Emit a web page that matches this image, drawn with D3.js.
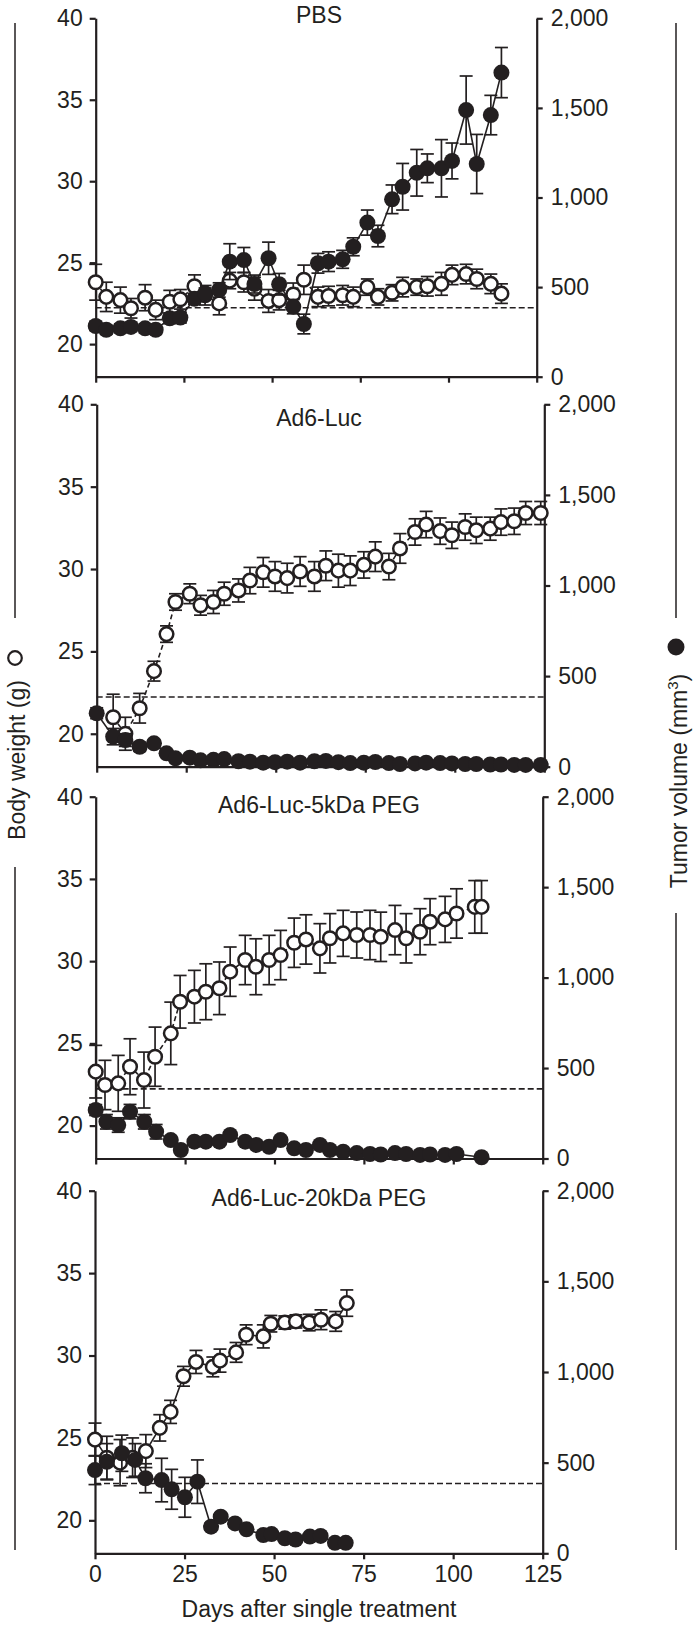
<!DOCTYPE html>
<html>
<head>
<meta charset="utf-8">
<script src="https://cdn.jsdelivr.net/npm/d3@7"></script>
<style>
  html, body { margin: 0; padding: 0; background: #fff; }
  svg { display: block; }
</style>
</head>
<body>
<script>
// ---------------- DATA ----------------
const panelTitles = ["PBS", "Ad6-Luc", "Ad6-Luc-5kDa PEG", "Ad6-Luc-20kDa PEG"];
const weightTicks = [20, 25, 30, 35, 40];
const tumorTicks = [0, 500, 1000, 1500, 2000];
const dayTicks = [0, 25, 50, 75, 100, 125];
const baselineTumor = 385;

// PBS
const days1 = [0,3,7,10,14,17,21,24,28,31,35,38,42,45,49,52,56,59,63,66,70,73,77,80,84,87,91,94,98,101,105,108,112,115];
const weight1 = [23.8,22.9,22.7,22.2,22.85,22.1,22.6,22.75,23.55,23.0,22.5,23.9,23.8,23.4,22.65,22.7,23.05,23.95,22.9,22.95,23.0,22.9,23.5,22.9,23.15,23.5,23.5,23.55,23.7,24.25,24.3,24.0,23.7,23.1];
const weightErr1 = [1.1,0.9,0.8,0.6,0.8,0.6,0.7,0.6,0.7,0.6,0.7,0.5,0.6,0.7,0.7,0.6,0.7,0.9,0.6,0.6,0.6,0.6,0.5,0.5,0.5,0.6,0.5,0.6,0.7,0.6,0.6,0.6,0.6,0.6];
const tumor1 = [283,262,270,278,270,262,326,330,435,465,484,642,651,517,661,516,391,294,633,642,655,725,860,785,990,1060,1138,1163,1163,1204,1488,1187,1460,1697];
const tumorErr1 = [25,25,25,25,25,25,30,30,30,30,40,100,70,50,90,60,40,55,55,55,50,50,70,60,80,130,130,80,160,100,190,165,110,140];

// Ad6-Luc
const days2w = [4.6,8,12,16,19.5,22,26,29,32.6,35.6,39.6,42.8,46.5,49.8,53.2,56.8,60.8,64,67.5,70.8,74.6,77.8,81.6,84.7,88.9,92,95.9,99.2,102.9,106,109.9,112.9,116.6,119.8,124];
const weight2 = [21.0,20.0,21.55,23.8,26.05,28.0,28.5,27.8,28.0,28.5,28.7,29.3,29.8,29.55,29.45,29.85,29.55,30.2,29.9,29.9,30.25,30.75,30.15,31.25,32.25,32.7,32.3,32.05,32.55,32.35,32.45,32.85,32.9,33.4,33.4];
const weightErr2 = [1.4,1.0,0.9,0.6,0.5,0.5,0.6,0.6,0.7,0.7,0.7,0.8,0.9,0.9,0.9,0.9,0.9,0.9,1.0,0.9,0.8,0.9,0.8,0.9,0.8,0.8,0.8,0.8,0.8,0.8,0.7,0.8,0.8,0.7,0.7];
const days2t = [0,4.6,8,12,16,19.5,22,26,29,32.6,35.6,39.6,42.8,46.5,49.8,53.2,56.8,60.8,64,67.5,70.8,74.6,77.8,81.6,84.7,88.9,92,95.9,99.2,102.9,106,109.9,112.9,116.6,119.8,124];
const tumor2 = [295,166,147,110,129,74,46,50,35,38,42,30,28,22,25,28,22,30,32,25,20,22,26,20,15,18,22,20,18,15,15,12,12,10,10,10];
const tumorErr2 = [30,45,35,25,20,15,10,10,10,10,10,10,10,10,10,10,10,10,10,10,10,10,10,10,10,10,10,10,10,10,10,10,10,10,10,10];

// Ad6-Luc-5kDa PEG
const days3w = [0,2.6,6.3,9.6,13.5,16.6,21,23.6,27.6,30.8,34.6,37.6,41.8,44.8,48.5,51.7,55.5,58.8,62.7,65.5,69.2,73,76.7,79.7,83.7,86.8,90.7,93.5,97.7,100.9,106,107.9];
const weight3 = [23.28,22.47,22.57,23.58,22.77,24.19,25.61,27.53,27.84,28.14,28.35,29.36,30.07,29.66,30.07,30.37,31.12,31.32,30.78,31.39,31.69,31.59,31.59,31.48,31.89,31.39,31.79,32.4,32.54,32.9,33.3,33.3];
const weightErr3 = [1.6,1.5,1.7,1.7,1.7,1.8,1.9,1.6,1.6,1.7,1.6,1.5,1.5,1.7,1.5,1.5,1.5,1.5,1.5,1.5,1.4,1.4,1.5,1.5,1.5,1.5,1.4,1.4,1.4,1.5,1.6,1.6];
const days3t = [0,3,6.3,9.6,13.6,16.9,21,23.8,27.6,30.8,34.6,37.6,41.8,44.9,48.5,51.7,55.5,58.8,62.7,65.5,69.2,73,76.7,79.7,83.7,86.8,90.7,93.5,97.7,100.9,107.9];
const tumor3 = [268,203,185,259,203,148,102,47,93,93,93,130,93,75,65,102,56,47,75,47,38,30,25,22,30,25,20,22,20,25,7];
const tumorErr3 = [30,40,40,40,40,40,20,15,15,15,15,15,15,15,10,10,10,10,10,10,10,10,10,10,10,10,10,10,10,10,10];

// Ad6-Luc-20kDa PEG
const days4w = [0,3.3,7,10.5,14.2,18.1,21.1,24.7,28.2,32.9,34.9,39.4,42.2,47,49.1,53,56.1,59.8,63.1,67.2,70.3];
const weight4 = [24.9,23.8,23.5,23.8,24.2,25.61,26.58,28.74,29.61,29.31,29.69,30.19,31.26,31.16,31.93,32.0,32.07,32.0,32.17,32.07,33.18];
const weightErr4 = [1.0,1.3,1.4,1.2,1.0,0.8,0.7,0.6,0.7,0.6,0.7,0.6,0.6,0.7,0.5,0.4,0.4,0.5,0.6,0.6,0.8];
const days4t = [0,3.3,7.5,11.2,14.1,18.6,21.4,25.1,28.6,32.4,35.1,39.1,42.3,47,49.3,53,56,60,63,67,70];
const tumor4 = [459,505,552,515,414,404,353,309,395,147,202,165,132,101,106,83,76,92,96,58,58];
const tumorErr4 = [80,100,100,90,80,120,110,110,120,20,20,20,15,10,10,10,10,10,10,10,10];

// ---------------- LAYOUT ----------------
const W = 700, H = 1629;
const ink = "#231f20";
const font = "'Liberation Sans', Arial, Helvetica, sans-serif";
const fs = 23;

const layout = [
  {left: 95.7, right: 536.7, top: 18.3,   bottom: 376.7,  titleY: 23.3,   openDash: "5,3", xLabels: false},
  {left: 96.7, right: 544.3, top: 404.3,  bottom: 766.7,  titleY: 425.7,  openDash: "5,3", xLabels: false},
  {left: 95.7, right: 542.7, top: 796.7,  bottom: 1158.5, titleY: 812.7,  openDash: "5,3", xLabels: false},
  {left: 95.0, right: 542.7, top: 1190.7, bottom: 1553.3, titleY: 1205.7, openDash: null,  xLabels: true}
];
const series = [
  {dw: days1, w: weight1, we: weightErr1, dt: days1, t: tumor1, te: tumorErr1},
  {dw: days2w, w: weight2, we: weightErr2, dt: days2t, t: tumor2, te: tumorErr2},
  {dw: days3w, w: weight3, we: weightErr3, dt: days3t, t: tumor3, te: tumorErr3},
  {dw: days4w, w: weight4, we: weightErr4, dt: days4t, t: tumor4, te: tumorErr4}
];

const svg = d3.select("body").append("svg")
  .attr("width", W).attr("height", H)
  .style("font-family", font);

function styleAxis(g) {
  g.select(".domain").attr("stroke", ink).attr("stroke-width", 2.2);
  g.selectAll(".tick line").attr("stroke", ink).attr("stroke-width", 2.2);
  g.selectAll(".tick text").attr("fill", ink).style("font-size", fs + "px").style("font-family", font);
}

layout.forEach((p, i) => {
  const s = series[i];
  const x = d3.scaleLinear().domain([0, 125]).range([p.left, p.right]);
  const yL = d3.scaleLinear().domain([18, 40]).range([p.bottom, p.top]);
  const yR = d3.scaleLinear().domain([0, 2000]).range([p.bottom, p.top]);
  const g = svg.append("g");

  // axes
  g.append("g").attr("transform", `translate(${p.left},0)`)
    .call(d3.axisLeft(yL).tickValues(weightTicks).tickSize(6).tickPadding(7).tickSizeOuter(0))
    .call(styleAxis);
  g.append("g").attr("transform", `translate(${p.right},0)`)
    .call(d3.axisRight(yR).tickValues(tumorTicks).tickFormat(d3.format(",")).tickSize(6).tickPadding(8).tickSizeOuter(0))
    .call(styleAxis);
  g.append("g").attr("transform", `translate(0,${p.bottom})`)
    .call(d3.axisBottom(x).tickValues(dayTicks).tickSize(6).tickPadding(6).tickSizeOuter(0)
      .tickFormat(p.xLabels ? d3.format("d") : () => ""))
    .call(styleAxis);

  // title
  g.append("text").attr("x", 319).attr("y", p.titleY)
    .attr("text-anchor", "middle").attr("fill", ink)
    .style("font-size", fs + "px").text(panelTitles[i]);

  // dashed baseline
  g.append("line")
    .attr("x1", p.left).attr("x2", p.right)
    .attr("y1", yR(baselineTumor)).attr("y2", yR(baselineTumor))
    .attr("stroke", ink).attr("stroke-width", 1.6).attr("stroke-dasharray", "6,3");

  const cap = 6.5;
  function errBars(days, vals, errs, y) {
    const eg = g.append("g").attr("stroke", ink).attr("stroke-width", 1.7).attr("fill", "none");
    days.forEach((d, k) => {
      const cx = x(d), y1 = y(vals[k] + errs[k]), y2 = y(vals[k] - errs[k]);
      eg.append("line").attr("x1", cx).attr("x2", cx).attr("y1", y1).attr("y2", y2);
      eg.append("line").attr("x1", cx - cap).attr("x2", cx + cap).attr("y1", y1).attr("y2", y1);
      eg.append("line").attr("x1", cx - cap).attr("x2", cx + cap).attr("y1", y2).attr("y2", y2);
    });
  }

  // body weight (open)
  errBars(s.dw, s.w, s.we, yL);
  const lineW = d3.line().x((d, k) => x(s.dw[k])).y(d => yL(d));
  g.append("path").attr("d", lineW(s.w)).attr("fill", "none")
    .attr("stroke", ink).attr("stroke-width", 1.6)
    .attr("stroke-dasharray", p.openDash);
  g.append("g").selectAll("circle").data(s.w).join("circle")
    .attr("cx", (d, k) => x(s.dw[k])).attr("cy", d => yL(d)).attr("r", 6.8)
    .attr("fill", "#fff").attr("stroke", ink).attr("stroke-width", 2.5);

  // tumor volume (filled)
  errBars(s.dt, s.t, s.te, yR);
  const lineT = d3.line().x((d, k) => x(s.dt[k])).y(d => yR(d));
  g.append("path").attr("d", lineT(s.t)).attr("fill", "none")
    .attr("stroke", ink).attr("stroke-width", 1.6);
  g.append("g").selectAll("circle").data(s.t).join("circle")
    .attr("cx", (d, k) => x(s.dt[k])).attr("cy", d => yR(d)).attr("r", 8)
    .attr("fill", ink);
});

// x-axis title
svg.append("text").attr("x", 319).attr("y", 1617)
  .attr("text-anchor", "middle").attr("fill", ink)
  .style("font-size", fs + "px").text("Days after single treatment");

// outer vertical guide lines
const frame = svg.append("g").attr("stroke", ink).attr("stroke-width", 1.5);
frame.append("line").attr("x1", 15).attr("x2", 15).attr("y1", 23).attr("y2", 618);
frame.append("line").attr("x1", 15).attr("x2", 15).attr("y1", 867).attr("y2", 1550);
frame.append("line").attr("x1", 676).attr("x2", 676).attr("y1", 23).attr("y2", 618);
frame.append("line").attr("x1", 676).attr("x2", 676).attr("y1", 913).attr("y2", 1550);

// left label
svg.append("circle").attr("cx", 15).attr("cy", 658).attr("r", 6.8)
  .attr("fill", "#fff").attr("stroke", ink).attr("stroke-width", 2.2);
svg.append("text").attr("transform", "translate(25,760) rotate(-90)")
  .attr("text-anchor", "middle").attr("fill", ink)
  .style("font-size", fs + "px").text("Body weight (g)");

// right label
svg.append("circle").attr("cx", 676).attr("cy", 647).attr("r", 8.5).attr("fill", ink);
const rt = svg.append("text").attr("transform", "translate(687,781) rotate(-90)")
  .attr("text-anchor", "middle").attr("fill", ink)
  .style("font-size", fs + "px");
rt.append("tspan").text("Tumor volume (mm");
rt.append("tspan").attr("dy", -9).style("font-size", "15px").text("3");
rt.append("tspan").attr("dy", 9).text(")");
</script>
</body>
</html>
